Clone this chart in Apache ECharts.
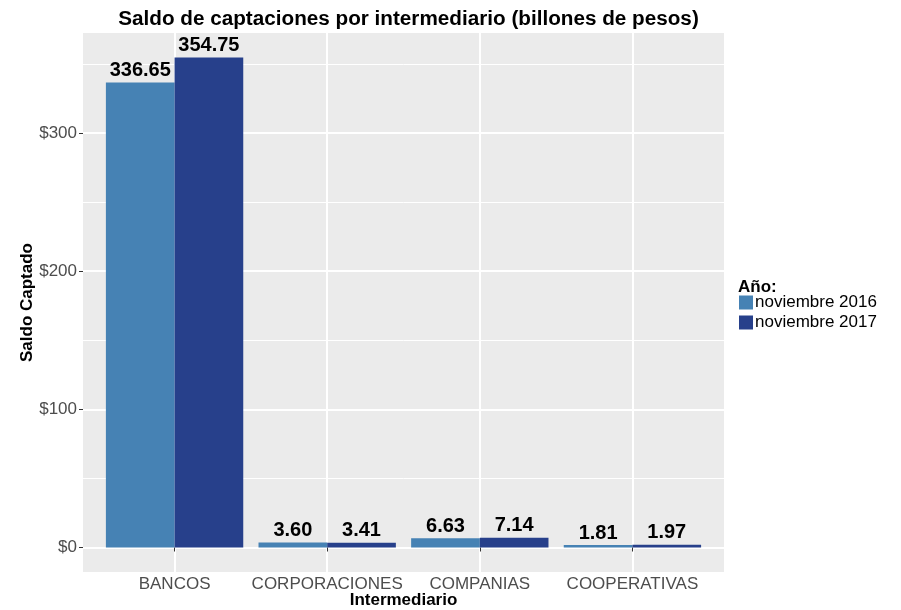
<!DOCTYPE html>
<html><head><meta charset="utf-8">
<script src="https://cdn.jsdelivr.net/npm/echarts@6/dist/echarts.min.js"></script>
<style>html,body{margin:0;padding:0;background:#fff}#c{width:901px;height:610px}</style>
</head><body><div id="c"></div>
<script>
const categories = ['BANCOS', 'CORPORACIONES', 'COMPANIAS', 'COOPERATIVAS'];
const seriesNames = ['noviembre 2016', 'noviembre 2017'];
const nov2016 = [336.65, 3.60, 6.63, 1.81];
const nov2017 = [354.75, 3.41, 7.14, 1.97];
const yMajor = [0, 100, 200, 300];
const yMinor = [50, 150, 250, 350];
const yTickLabels = ['$0', '$100', '$200', '$300'];

const FONT = '"Liberation Sans", Arial, Helvetica, sans-serif';
const colors = ['#4682B4', '#27408B'];
const panel = {left: 83, right: 724, top: 33, bottom: 572};
const W = 901, H = 610;
const unit = (panel.right - panel.left) / 4.2;
const dataMax = Math.max(...nov2016, ...nov2017);
const yMin = -0.05 * dataMax, yMax = dataMax * 1.05;

const chart = echarts.init(document.getElementById('c'), null, {renderer: 'canvas'});
const gridLines = [];
yMinor.forEach(v => gridLines.push({yAxis: v, lineStyle: {width: 1}}));
yMajor.forEach(v => gridLines.push({yAxis: v, lineStyle: {width: 2}}));
categories.forEach((c, i) => gridLines.push({xAxis: i + 1, lineStyle: {width: 2}}));

const barLabel = {
  show: true, position: 'top', distance: 2,
  fontFamily: FONT, fontWeight: 'bold', fontSize: 20, color: '#000',
  formatter: p => p.value.toFixed(2)
};

chart.setOption({
  animation: false,
  title: {
    text: 'Saldo de captaciones por intermediario (billones de pesos)',
    left: (panel.left + panel.right) / 2, top: 4, textAlign: 'center',
    textStyle: {fontFamily: FONT, fontWeight: 'bold', fontSize: 20.7, color: '#000'}
  },
  grid: [
    {left: panel.left, right: W - panel.right, top: panel.top, bottom: H - panel.bottom,
     show: true, backgroundColor: '#EBEBEB', borderWidth: 0},
    {left: panel.left + 0.1 * unit, width: 4 * unit, top: panel.top, bottom: H - panel.bottom,
     show: false}
  ],
  xAxis: [
    {gridIndex: 0, type: 'value', min: 0.4, max: 4.6, show: false},
    {gridIndex: 1, type: 'category', data: categories,
     axisLine: {show: false},
     axisTick: {show: true, alignWithLabel: true, length: 4, lineStyle: {color: '#333', width: 1}},
     axisLabel: {fontFamily: FONT, fontSize: 17, color: '#4D4D4D', margin: 4, interval: 0},
     splitLine: {show: false}}
  ],
  yAxis: [
    {gridIndex: 0, type: 'value', min: yMin, max: yMax,
     axisLine: {show: false},
     axisTick: {show: true, length: 4, customValues: yMajor, lineStyle: {color: '#333', width: 1}},
     axisLabel: {show: true, customValues: yMajor, fontFamily: FONT, fontSize: 17, color: '#4D4D4D', margin: 6,
       formatter: v => yTickLabels[yMajor.indexOf(v)] ?? ''},
     splitLine: {show: false}},
    {gridIndex: 1, type: 'value', min: yMin, max: yMax, show: false, splitLine: {show: false}}
  ],
  legend: {
    orient: 'vertical', left: 739, top: 294, padding: 0, itemWidth: 14, itemHeight: 14, itemGap: 3,
    icon: 'rect', data: seriesNames,
    textStyle: {fontFamily: FONT, fontSize: 17, color: '#000', padding: [0, 0, 0, -3]},
    selectedMode: false
  },
  graphic: [
    {type: 'text', x: 27, y: (panel.top + panel.bottom) / 2, rotation: Math.PI / 2,
     style: {text: 'Saldo Captado', font: 'bold 17px ' + FONT, fill: '#000', align: 'center', verticalAlign: 'middle'}},
    {type: 'text', x: (panel.left + panel.right) / 2, y: 600,
     style: {text: 'Intermediario', font: 'bold 17px ' + FONT, fill: '#000', align: 'center', verticalAlign: 'middle'}},
    {type: 'text', x: 738, y: 287,
     style: {text: 'Año:', font: 'bold 17px ' + FONT, fill: '#000', align: 'left', verticalAlign: 'middle'}}
  ],
  series: [
    {type: 'line', xAxisIndex: 0, yAxisIndex: 0, data: [], silent: true, z: 0,
     markLine: {silent: true, z: 0, zlevel: 0, symbol: 'none', label: {show: false}, animation: false,
       lineStyle: {color: '#FFFFFF', type: 'solid'}, emphasis: {disabled: true}, data: gridLines}},
    {name: seriesNames[0], type: 'bar', xAxisIndex: 1, yAxisIndex: 1, data: nov2016,
     barWidth: 0.45 * unit, barGap: '0%', itemStyle: {color: colors[0]}, label: barLabel, z: 3,
     emphasis: {disabled: true}},
    {name: seriesNames[1], type: 'bar', xAxisIndex: 1, yAxisIndex: 1, data: nov2017,
     barWidth: 0.45 * unit, barGap: '0%', itemStyle: {color: colors[1]}, label: barLabel, z: 3,
     emphasis: {disabled: true}}
  ]
});
</script></body></html>
